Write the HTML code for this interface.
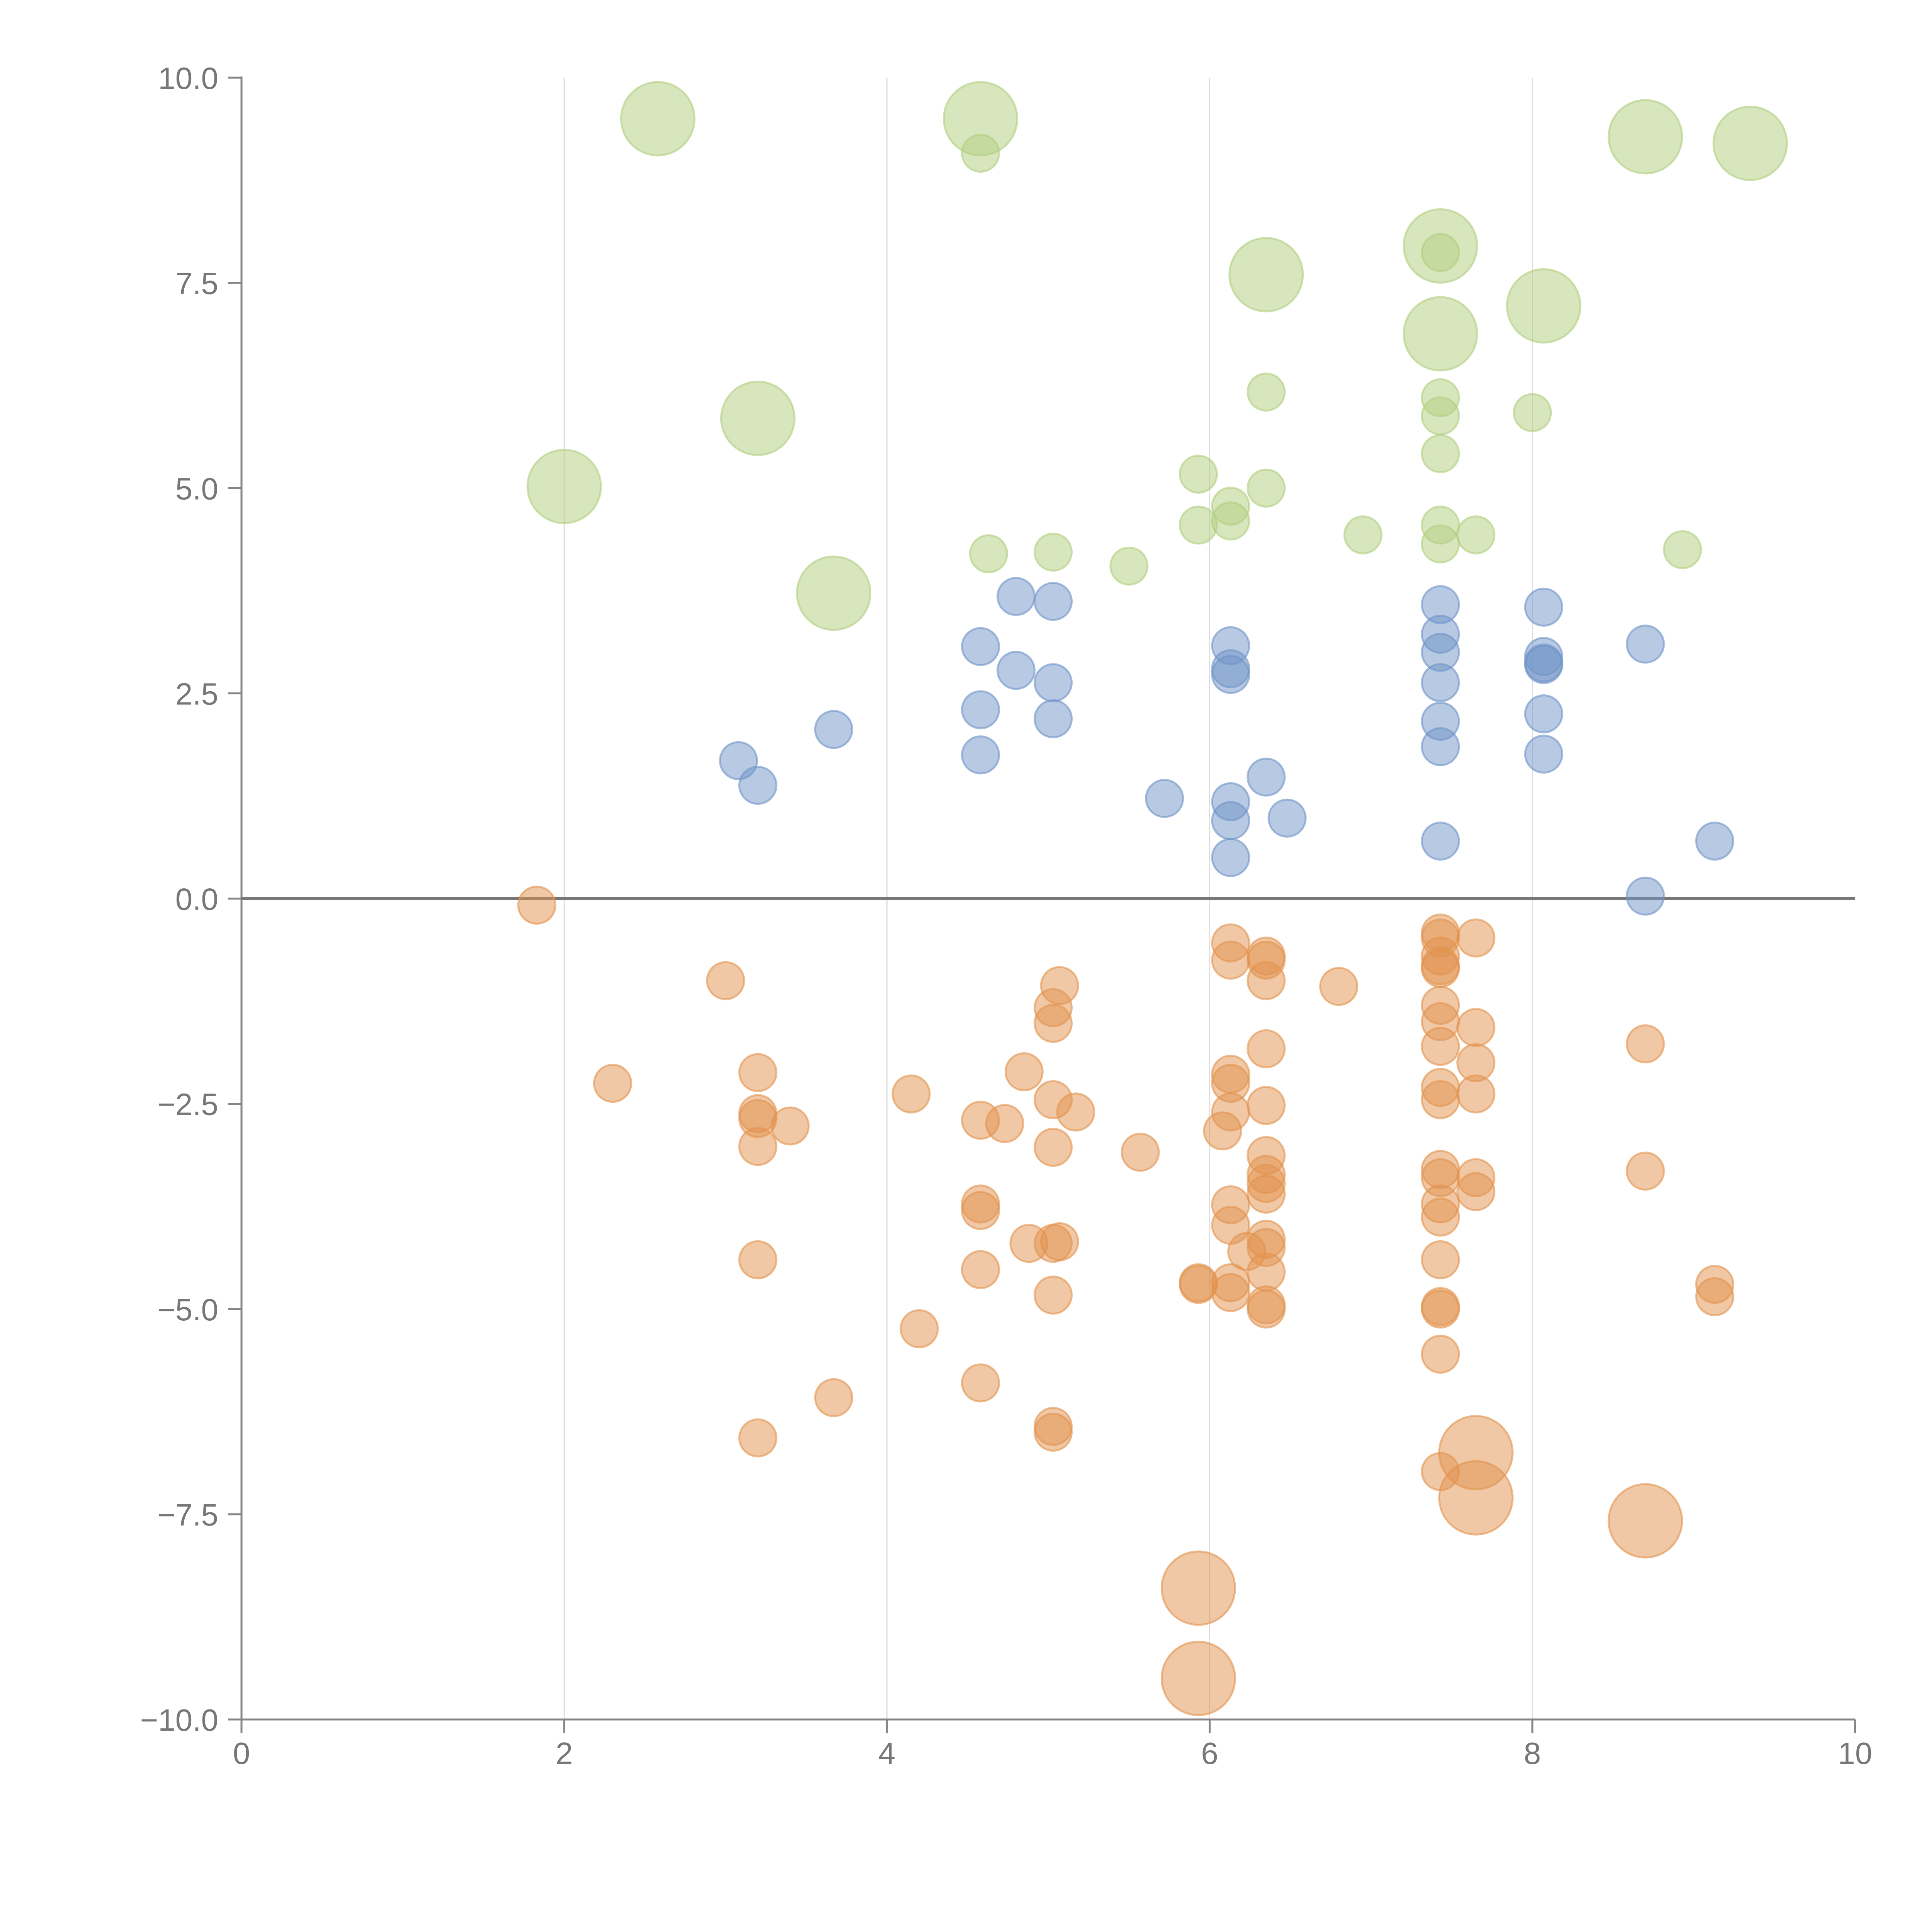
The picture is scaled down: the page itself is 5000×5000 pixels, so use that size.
<!DOCTYPE html>
<html><head><meta charset="utf-8"><style>
html,body{margin:0;padding:0;background:#fff;}
svg{display:block;font-family:"Liberation Sans",sans-serif;}
</style></head><body>
<svg id="chart" width="5000" height="5000" viewBox="0 0 5000 5000" xmlns="http://www.w3.org/2000/svg">
<g id="grid"></g>
<g id="axes"></g>
<g id="marks"></g>
</svg>
<script>
const xTicks=[0,2,4,6,8,10];
const yTicks=[10,7.5,5,2.5,0,-2.5,-5,-7.5,-10];
const yTickLabels=["10.0","7.5","5.0","2.5","0.0","\u22122.5","\u22125.0","\u22127.5","\u221210.0"];
const greenX=[2.58,4.58,8.7,9.35,7.43,6.35,8.07,7.43,3.2,2.0,3.67,4.58,7.43,6.35,7.43,7.43,8.0,7.43,5.93,6.13,6.35,5.93,6.13,7.43,7.43,7.65,6.95,4.63,5.03,5.5,8.93];
const greenY=[9.5,9.5,9.28,9.2,7.95,7.6,7.22,6.88,5.85,5.02,3.72,9.08,7.87,6.17,6.1,5.88,5.92,5.42,5.17,4.78,5.0,4.55,4.6,4.55,4.32,4.43,4.43,4.2,4.22,4.05,4.25];
const greenS=[2,2,2,2,2,2,2,2,2,2,2,1,1,1,1,1,1,1,1,1,1,1,1,1,1,1,1,1,1,1,1];
const blueX=[4.8,5.03,4.58,4.8,5.03,4.58,5.03,4.58,3.67,3.08,3.2,5.72,6.13,6.13,6.13,6.13,6.13,6.13,6.35,6.48,7.43,7.43,7.43,7.43,7.43,7.43,7.43,8.07,8.07,8.07,8.07,8.07,8.07,8.7,8.7,9.13];
const blueY=[3.68,3.62,3.07,2.78,2.63,2.3,2.19,1.75,2.06,1.68,1.38,1.22,3.08,2.8,2.73,1.18,0.95,0.5,1.48,0.98,3.58,3.22,3.0,2.63,2.16,1.85,0.7,3.55,2.95,2.87,2.85,2.25,1.76,3.1,0.03,0.7];
const orangeX=[1.83,3.0,2.3,3.2,3.2,3.2,3.2,3.4,3.2,3.2,3.67,4.15,4.2,4.58,4.73,4.58,4.58,4.58,4.58,4.85,4.88,5.07,5.03,5.03,5.03,5.17,5.03,5.03,5.07,5.03,5.03,5.03,5.57,5.93,5.93,6.13,6.13,6.13,6.13,6.13,6.08,6.13,6.13,6.23,6.13,6.13,6.35,6.35,6.35,6.35,6.35,6.35,6.35,6.35,6.35,6.35,6.35,6.35,6.35,6.35,6.8,7.43,7.43,7.43,7.43,7.43,7.43,7.43,7.43,7.43,7.43,7.43,7.43,7.43,7.43,7.43,7.43,7.43,7.43,7.43,7.65,7.65,7.65,7.65,7.65,7.65,8.7,8.7,9.13,9.13,7.65,7.65,8.7,5.93,5.93];
const orangeY=[-0.08,-1.0,-2.25,-2.12,-2.62,-2.68,-3.02,-2.77,-4.4,-6.57,-6.08,-2.38,-5.24,-2.7,-2.74,-3.72,-3.8,-4.52,-5.9,-2.11,-4.2,-1.06,-1.33,-1.52,-2.45,-2.6,-3.03,-4.2,-4.18,-4.83,-6.43,-6.5,-3.09,-4.68,-4.7,-0.54,-0.75,-2.14,-2.25,-2.6,-2.83,-3.73,-3.98,-4.3,-4.68,-4.8,-0.7,-0.75,-1.0,-1.83,-2.52,-3.13,-3.36,-3.47,-3.6,-4.15,-4.25,-4.55,-4.95,-5.0,-1.07,-0.42,-0.48,-0.7,-0.82,-0.85,-1.3,-1.5,-1.8,-2.3,-2.45,-3.3,-3.4,-3.72,-3.88,-4.4,-4.97,-5.0,-5.55,-6.98,-0.48,-1.57,-2.0,-2.38,-3.4,-3.57,-1.77,-3.32,-4.7,-4.85,-6.75,-7.3,-7.58,-8.4,-9.5];
const orangeS=orangeX.map((v,i)=>i>=90?2:1);

const NS="http://www.w3.org/2000/svg";
const X0=625,X1=4801,Y0=4450,Y1=201;
function sx(v){return X0+(v-0)/(10-0)*(X1-X0);}
function sy(v){return Y0-(v+10)/20*(Y0-Y1);}
function mk(tag,attrs,parent){const e=document.createElementNS(NS,tag);for(const k in attrs)e.setAttribute(k,attrs[k]);parent.appendChild(e);return e;}
const grid=document.getElementById('grid'),axes=document.getElementById('axes'),marks=document.getElementById('marks');

xTicks.forEach(t=>{
  if(t>0&&t<10){const l=mk('line',{x1:sx(t),x2:sx(t),y1:Y1,y2:Y0,stroke:'#dcdcdc','stroke-width':3},grid);
  
  }
  const tk=mk('line',{x1:sx(t),x2:sx(t),y1:Y0,y2:Y0+35,stroke:'#858585','stroke-width':5},axes);
  
  
  const tx=mk('text',{x:sx(t),y:Y0+115,'text-anchor':'middle','font-size':80,fill:'#777'},axes);
  tx.textContent=String(t);
  
  
});
yTicks.forEach((t,i)=>{
  const tk=mk('line',{x1:X0-35,x2:X0,y1:sy(t),y2:sy(t),stroke:'#858585','stroke-width':5},axes);
  
  
  const tx=mk('text',{x:X0-60,y:sy(t)+29,'text-anchor':'end','font-size':80,fill:'#777'},axes);
  tx.textContent=yTickLabels[i];
  
  
});
let a=mk('line',{x1:X0,x2:X0,y1:Y1-3,y2:Y0,stroke:'#858585','stroke-width':5},axes);


a=mk('line',{x1:X0,x2:X1,y1:Y0,y2:Y0,stroke:'#858585','stroke-width':5},axes);


a=mk('line',{x1:X0,x2:X1,y1:sy(0),y2:sy(0),stroke:'#777','stroke-width':7},axes);



function series(xs,ys,ss,fill,name){
  xs.forEach((x,i)=>{
    const r=ss[i]===2?95:48;
    const c=mk('circle',{cx:sx(x),cy:sy(ys[i]),r:r,fill:fill,'fill-opacity':0.5,stroke:fill,'stroke-opacity':0.6,'stroke-width':5},marks);
    
    
  });
}
series(greenX,greenY,greenS,'rgb(177,206,126)','bubble-green');
series(blueX,blueY,blueX.map(()=>1),'rgb(112,148,200)','bubble-blue');
series(orangeX,orangeY,orangeS,'rgb(226,146,77)','bubble-orange');
</script>
</body></html>
